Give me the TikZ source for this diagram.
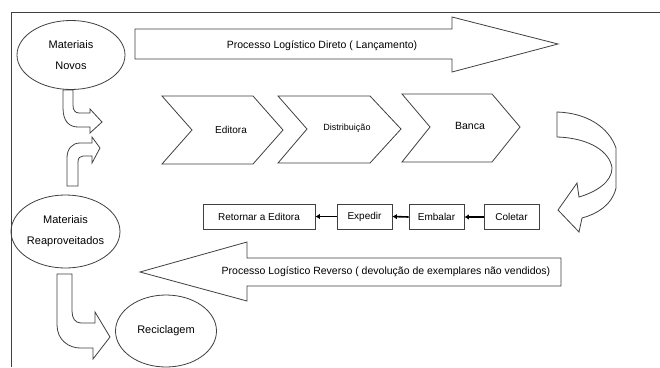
\documentclass[tikz,border=0pt]{standalone}
\usepackage{fontspec}
\setmainfont{Liberation Sans}
\usetikzlibrary{shapes.geometric,arrows.meta}
\definecolor{ink}{gray}{0.25}
\tikzset{
  shapeline/.style={draw=ink,line width=0.8pt,line join=miter},
  oval/.style={ellipse,shapeline,inner sep=0pt,align=center,font=\fontsize{11}{21}\selectfont},
  stepbox/.style={rectangle,shapeline,inner sep=0pt,minimum height=25pt,font=\fontsize{10}{12}\selectfont},
  lbl/.style={inner sep=0pt,font=\fontsize{10}{12}\selectfont},
  biglbl/.style={inner sep=0pt,font=\fontsize{10.5}{12}\selectfont},
  flow/.style={draw=black,line width=1.6pt,-{Latex[length=4.5pt,width=5.5pt]}}
}
\begin{document}
\begin{tikzpicture}[x=1pt,y=-1pt]
\useasboundingbox (0,0) rectangle (660,367);
\fill[white] (0,0) rectangle (660,367);
% frame
\draw[ink,line width=0.8pt] (11,367) -- (11,12) -- (660,12);

% direct process arrow
\draw[shapeline] (135,29) -- (452,29) -- (452,17) -- (558,44) -- (452,72) -- (452,59) -- (135,59) -- cycle;
\node[biglbl] (direto) at (322,46) {Processo Logístico Direto ( Lançamento)};

% chevrons
\draw[shapeline] (162,96) -- (253,96) -- (283,130) -- (253,164) -- (162,164) -- (192,130) -- cycle;
\node[lbl] (editora) at (231,130) {Editora};
\draw[shapeline] (278,96) -- (370,96) -- (401,129) -- (370,163) -- (278,163) -- (307,129) -- cycle;
\node[lbl,font=\fontsize{9}{11}\selectfont] (distrib) at (347,128) {Distribuição};
\draw[shapeline] (402,94) -- (492,94) -- (520,127) -- (492,162) -- (402,162) -- (430,127) -- cycle;
\node[lbl,font=\fontsize{10.5}{12}\selectfont] (banca) at (470,126) {Banca};

% U-turn arrow
\draw[shapeline] (557,112) .. controls (588,113) and (609,128) .. (616,148)
  -- (616,188) .. controls (612,205) and (597,214) .. (582,218)
  -- (579,232) -- (558,210) -- (577,183) -- (579,197)
  .. controls (596,192) and (612,182) .. (612,168)
  .. controls (610,152) and (590,138) .. (557,137) -- cycle;

% reverse chain boxes
\node[stepbox,minimum width=112pt] (retornar) at (259,216.5) {Retornar a Editora};
\node[stepbox,minimum width=55pt] (expedir) at (364.5,216.5) {Expedir};
\node[stepbox,minimum width=55pt] (embalar) at (436.5,217) {Embalar};
\node[stepbox,minimum width=55pt] (coletar) at (511.5,217) {Coletar};
\draw[flow] (coletar.west) -- (embalar.east);
\draw[flow] (embalar.west) -- (expedir.east);
\draw[flow] (expedir.west) -- (retornar.east);

% reverse process arrow
\draw[shapeline] (561,258) -- (247,258) -- (247,242) -- (140,272) -- (247,301) -- (247,286) -- (561,286) -- cycle;
\node[biglbl] (reverso) at (386,272) {Processo Logístico Reverso ( devolução de exemplares não vendidos)};

% ellipses
\node[oval,minimum width=108pt,minimum height=69pt] (novos) at (71,55) {Materiais\\Novos};
\node[oval,minimum width=103pt,minimum height=73pt] (reap) at (65.5,231.5) {Materiais\\Reaproveitados};
\node[oval,minimum width=101pt,minimum height=72pt] (recic) at (166,331) {Reciclagem};

% left bent arrows
\draw[shapeline] (63,90) -- (63,108) .. controls (63,121) and (69,127) .. (78,127)
  -- (90,127) -- (90,133) -- (102,122) -- (90,109) -- (90,113) -- (79,113)
  .. controls (75,113) and (73,110) .. (73,105) -- (73,90) -- cycle;
\draw[shapeline] (67,186) -- (67,158) .. controls (67,149) and (72,143) .. (80,143)
  -- (92,143) -- (92,137) -- (100,148) -- (92,163) -- (92,156) -- (83,156)
  .. controls (80,156) and (78,158) .. (78,162) -- (78,186) -- cycle;
\draw[shapeline] (57,274) -- (57,325) .. controls (57,340) and (69,348) .. (80,348)
  -- (93,348) -- (93,359) -- (110,337) -- (95,312) -- (95,323) -- (81,323)
  .. controls (75,323) and (72,318) .. (72,311) -- (72,274) -- cycle;
\end{tikzpicture}
\end{document}
